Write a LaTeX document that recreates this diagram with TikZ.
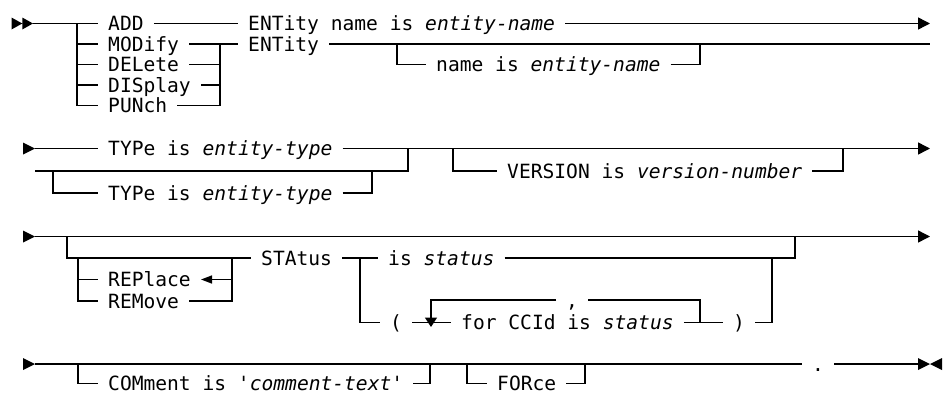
\documentclass[tikz,border=0pt]{standalone}
\usepackage{fontspec}
\setmonofont{DejaVu Sans Mono}
\usepackage{tikz}
\usetikzlibrary{arrows.meta}
\usetikzlibrary{calc}
\usetikzlibrary{positioning}

\begin{document}
\begin{tikzpicture}[
        x=1pt, y=-1pt,
        rail/.style={line width=1.4pt, line join=miter},
        kw/.style={font=\fontsize{19.6}{22}\selectfont\ttfamily, inner xsep=10pt,
        inner ysep=0pt, text height=14.3pt, text depth=0pt, anchor=west},
        goon/.style={-{Triangle[length=12pt,width=12pt]}},
        back/.style={-{Triangle[length=11pt,width=8pt]}},
        down/.style={-{Triangle[length=9.5pt,width=12pt]}},
        railin/.pic={\fill (-12,-6) -- (0,0) -- (-12,6) -- cycle;},
        railbeg/.pic={\fill (-21.5,-6) -- (-10.75,0) -- (-21.5,6) -- cycle
            (-10.75,-6) -- (0,0) -- (-10.75,6) -- cycle;},
        railend/.pic={\fill (0,-6) -- (12,0) -- (0,6) -- cycle
            (24,-6) -- (12,0) -- (24,6) -- cycle;}
        ]
        \useasboundingbox (0,0) rectangle (944,394);

        % first part: verb and entity
        \coordinate (beg) at (33,23.5);
        \coordinate (vsplit) at (77,23.5);
        \coordinate (vjoin) at (220,44);
        \coordinate (endA) at (930,23.5);
        \coordinate (endB) at (930,44);
        \coordinate (optA) at (397,44);
        \coordinate (optB) at (700,44);
        \pic at (beg) {railbeg};

        \node[kw] (add) at (98,23.5) {ADD};
        \node[kw] (modify) at (98,44) {MODify};
        \node[kw] (delete) at (98,64.5) {DELete};
        \node[kw] (display) at (98,85) {DISplay};
        \node[kw] (punch) at (98,105.5) {PUNch};
        \node[kw] (entA) at (238,23.5) {ENTity name is \textit{entity-name}};
        \node[kw] (entB) at (238,44) {ENTity};
        \node[kw] (entname) at (426,64.5) {name is \textit{entity-name}};

        \draw[rail] (beg) -- (add.west);
        \draw[rail] (vsplit) |- (punch.west);
        \foreach \n in {modify,delete,display}
            \draw[rail] (vsplit |- \n.west) -- (\n.west);
        \draw[rail] (modify.east) -- (entB.west);
        \foreach \n in {delete,display}
            \draw[rail] (\n.east) -- (vjoin |- \n.east);
        \draw[rail] (punch.east) -| (vjoin);
        \draw[rail] (add.east) -- (entA.west);
        \draw[rail, goon] (entA.east) -- (endA);
        \draw[rail] (entB.east) -- (endB);
        \draw[rail] (optA) |- (entname.west);
        \draw[rail] (entname.east) -| (optB);

        % second part: type and version
        \coordinate (inC) at (35,148.5);
        \coordinate (altL) at (35,171);
        \coordinate (altR) at (408,148.5);
        \coordinate (tyL) at (53,171);
        \coordinate (tyR) at (372,171);
        \coordinate (verL) at (453,148.5);
        \coordinate (verR) at (843,148.5);
        \coordinate (endC) at (930,148.5);
        \pic at (inC) {railin};

        \node[kw] (typeA) at (98,148.5) {TYPe is \textit{entity-type}};
        \node[kw] (typeB) at (98,193) {TYPe is \textit{entity-type}};
        \node[kw] (version) at (497,171) {VERSION is \textit{version-number}};

        \draw[rail] (inC) -- (typeA.west);
        \draw[rail, goon] (typeA.east) -- (altR) -- (endC);
        \draw[rail] (altL) -| (altR);
        \draw[rail] (tyL) |- (typeB.west);
        \draw[rail] (typeB.east) -| (tyR);
        \draw[rail] (verL) |- (version.west);
        \draw[rail] (version.east) -| (verR);

        % third part: status
        \coordinate (inD) at (35,236.5);
        \coordinate (endD) at (930,236.5);
        \coordinate (stL) at (67,236.5);
        \coordinate (rpL) at (78,258);
        \coordinate (rpR) at (232,258);
        \coordinate (isL) at (360,258);
        \coordinate (isR) at (795,236.5);
        \coordinate (ccR) at (772,258);
        \coordinate (loopR) at (700,322.5);
        \coordinate (loopL) at (431,327);
        \pic at (inD) {railin};

        \node[kw] (status) at (251,258) {STAtus};
        \node[kw] (replace) at (98,279.5) {REPlace};
        \node[kw] (remove) at (98,301) {REMove};
        \node[kw] (isstatus) at (378,258) {is \textit{status}};
        \node[kw] (paren) at (380,322.5) {(};
        \node[kw] (forccid) at (451,322.5) {for CCId is \textit{status}};
        \node[kw] (parenr) at (723,322.5) {)};
        \node[kw] (comma) at (556,300) {,};

        \draw[rail, goon] (inD) -- (endD);
        \draw[rail] (stL) |- (status.west);
        \draw[rail] (rpL) |- (remove.west);
        \draw[rail] (rpL |- replace.west) -- (replace.west);
        \draw[rail] (remove.east) -| (rpR);
        \draw[rail, back] (rpR |- replace.east) -- (replace.east);
        \draw[rail] (status.east) -- (isstatus.west);
        \draw[rail] (isstatus.east) -| (isR);
        \draw[rail] (isL) |- (paren.west);
        \draw[rail] (paren.east) -- (forccid.west);
        \draw[rail] (forccid.east) -- (parenr.west);
        \draw[rail] (parenr.east) -| (ccR);
        \draw[rail] (comma.east) -| (loopR);
        \draw[rail, down] (comma.west) -| (loopL);

        % fourth part: comment and force
        \coordinate (inE) at (35,364);
        \coordinate (endE) at (918,364);
        \coordinate (cmL) at (78,364);
        \coordinate (cmR) at (430,364);
        \coordinate (foL) at (467,364);
        \coordinate (foR) at (585,364);
        \pic at (inE) {railin};
        \pic at (endE) {railend};

        \node[kw] (comment) at (98,383.5) {COMment is '\textit{comment-text}'};
        \node[kw] (force) at (487,383.5) {FORce};
        \node[kw] (period) at (802,364) {.};

        \draw[rail] (inE) -- (period.west);
        \draw[rail] (period.east) -- (endE);
        \draw[rail] (cmL) |- (comment.west);
        \draw[rail] (comment.east) -| (cmR);
        \draw[rail] (foL) |- (force.west);
        \draw[rail] (force.east) -| (foR);

    \end{tikzpicture}
\end{document}
